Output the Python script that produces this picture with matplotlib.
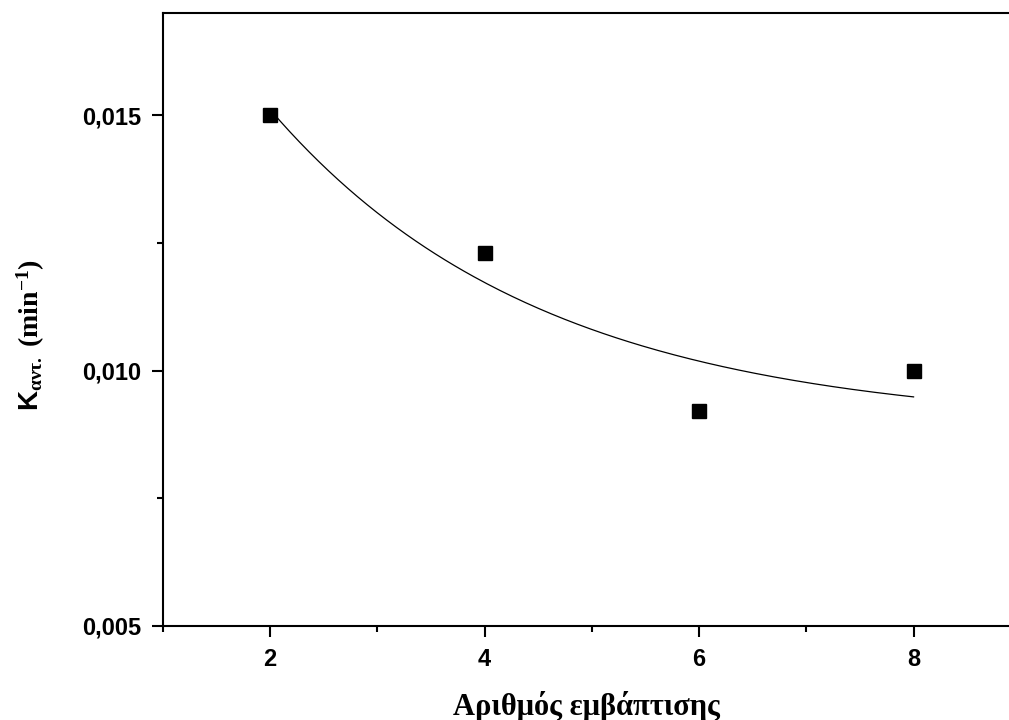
import matplotlib
matplotlib.use('Agg')
import matplotlib.pyplot as plt
import numpy as np
from matplotlib.ticker import MultipleLocator, FuncFormatter

# data
immersions = np.array([2, 4, 6, 8])
k_values = np.array([0.0150, 0.0123, 0.0092, 0.0100])

# exponential decay fit y = y0 + A*exp(-x/t), grid over t + linear least squares
best = None
for t in np.linspace(0.3, 30, 6000):
    M = np.column_stack([np.ones_like(immersions, dtype=float), np.exp(-immersions / t)])
    coef, res, _, _ = np.linalg.lstsq(M, k_values, rcond=None)
    r = np.sum((M @ coef - k_values) ** 2)
    if best is None or r < best[0]:
        best = (r, t, coef)
_, t_fit, (y0_fit, a_fit) = best
x_fit = np.linspace(immersions.min(), immersions.max(), 200)
y_fit = y0_fit + a_fit * np.exp(-x_fit / t_fit)

plt.rcParams['mathtext.fontset'] = 'custom'
plt.rcParams['mathtext.rm'] = 'Liberation Serif:bold'
plt.rcParams['mathtext.bf'] = 'Liberation Serif:bold'
plt.rcParams['mathtext.it'] = 'Liberation Serif'
plt.rcParams['mathtext.sf'] = 'Liberation Sans:bold'

fig = plt.figure(figsize=(10.09, 7.2), dpi=100)
ax = fig.add_axes([163 / 1009, 1 - 626 / 720, 1 - 163 / 1009, (626 - 13) / 720])

ax.plot(x_fit, y_fit, color='black', linewidth=0.9)
ax.plot(immersions, k_values, 's', color='black', markersize=10, clip_on=False)

ax.set_xlim(1, 8.89)
ax.set_ylim(0.005, 0.017)

ax.xaxis.set_major_locator(MultipleLocator(2))
ax.xaxis.set_minor_locator(MultipleLocator(1))
ax.yaxis.set_major_locator(MultipleLocator(0.005))
ax.yaxis.set_minor_locator(MultipleLocator(0.0025))
ax.yaxis.set_major_formatter(FuncFormatter(lambda v, p: ('%.3f' % v).replace('.', ',')))

ax.spines['right'].set_visible(False)
for s in ['left', 'bottom', 'top']:
    ax.spines[s].set_linewidth(1.5)

ax.tick_params(which='major', direction='out', length=8, width=1.5, pad=8,
               top=False, right=False)
ax.tick_params(which='minor', direction='out', length=4, width=1.5,
               top=False, right=False)
for lab in ax.get_xticklabels() + ax.get_yticklabels():
    lab.set_fontfamily('Liberation Sans')
    lab.set_fontweight('bold')
    lab.set_fontsize(17)

ax.set_xlabel('Αριθμός εμβάπτισης', fontfamily='Liberation Serif',
              fontweight='bold', fontsize=22)
ax.xaxis.set_label_coords(0.5, -0.106)

ax.set_ylabel(r'$\mathsf{K}_{\mathrm{αντ.}}\ \mathbf{(min^{-1})}$', fontsize=20)
ax.yaxis.set_label_coords(-0.137, 0.475)

plt.savefig('out.png', dpi=100)
